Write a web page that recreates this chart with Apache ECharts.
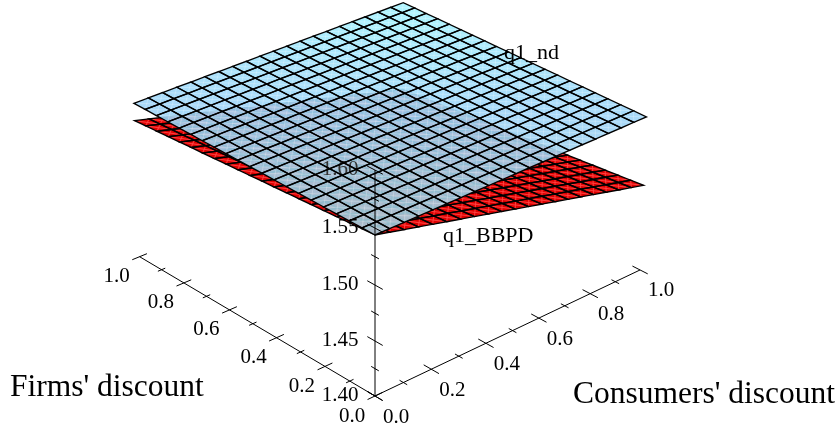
<!DOCTYPE html>
<html><head><meta charset="utf-8">
<style>html,body{margin:0;padding:0;background:#fff}#c{width:839px;height:430px}</style>
<script src="https://cdn.jsdelivr.net/npm/echarts@6/dist/echarts.min.js"></script>
</head><body><div id="c"></div>
<script>
const firmsTicks=[0,0.1,0.2,0.3,0.4,0.5,0.6,0.7,0.8,0.9,1];
const consumersTicks=[0,0.1,0.2,0.3,0.4,0.5,0.6,0.7,0.8,0.9,1];
const qTicks=[1.4,1.425,1.45,1.475,1.5,1.525,1.55,1.575,1.6];
const gridSteps=[0,0.05,0.1,0.15,0.2,0.25,0.3,0.35,0.4,0.45,0.5,0.55,0.6,0.65,0.7,0.75,0.8,0.85,0.9,0.95,1];
const q1_nd=[
[1.5440,1.5441,1.5441,1.5442,1.5442,1.5443,1.5443,1.5444,1.5444,1.5445,1.5445,1.5446,1.5446,1.5447,1.5447,1.5448,1.5448,1.5449,1.5449,1.5450,1.5450],
[1.5441,1.5441,1.5442,1.5442,1.5443,1.5443,1.5444,1.5444,1.5445,1.5445,1.5446,1.5446,1.5447,1.5447,1.5448,1.5448,1.5449,1.5449,1.5450,1.5450,1.5451],
[1.5441,1.5442,1.5442,1.5443,1.5443,1.5444,1.5444,1.5445,1.5445,1.5446,1.5446,1.5447,1.5447,1.5448,1.5448,1.5449,1.5449,1.5450,1.5450,1.5451,1.5451],
[1.5442,1.5442,1.5443,1.5443,1.5444,1.5444,1.5445,1.5445,1.5446,1.5446,1.5447,1.5447,1.5448,1.5448,1.5449,1.5449,1.5450,1.5450,1.5451,1.5451,1.5452],
[1.5442,1.5443,1.5443,1.5444,1.5444,1.5445,1.5445,1.5446,1.5446,1.5447,1.5447,1.5448,1.5448,1.5449,1.5449,1.5450,1.5450,1.5451,1.5451,1.5452,1.5452],
[1.5443,1.5443,1.5444,1.5444,1.5445,1.5445,1.5446,1.5446,1.5447,1.5447,1.5448,1.5448,1.5449,1.5449,1.5450,1.5450,1.5451,1.5451,1.5452,1.5452,1.5453],
[1.5443,1.5444,1.5444,1.5445,1.5445,1.5446,1.5446,1.5447,1.5447,1.5448,1.5448,1.5449,1.5449,1.5450,1.5450,1.5451,1.5451,1.5452,1.5452,1.5453,1.5453],
[1.5444,1.5444,1.5445,1.5445,1.5446,1.5446,1.5447,1.5447,1.5448,1.5448,1.5449,1.5449,1.5450,1.5450,1.5451,1.5451,1.5452,1.5452,1.5453,1.5453,1.5454],
[1.5444,1.5445,1.5445,1.5446,1.5446,1.5447,1.5447,1.5448,1.5448,1.5449,1.5449,1.5450,1.5450,1.5451,1.5451,1.5452,1.5452,1.5453,1.5453,1.5454,1.5454],
[1.5445,1.5445,1.5446,1.5446,1.5447,1.5447,1.5448,1.5448,1.5449,1.5449,1.5450,1.5450,1.5451,1.5451,1.5452,1.5452,1.5453,1.5453,1.5454,1.5454,1.5455],
[1.5445,1.5446,1.5446,1.5447,1.5447,1.5448,1.5448,1.5449,1.5449,1.5450,1.5450,1.5451,1.5451,1.5452,1.5452,1.5453,1.5453,1.5454,1.5454,1.5455,1.5455],
[1.5446,1.5446,1.5447,1.5447,1.5448,1.5448,1.5449,1.5449,1.5450,1.5450,1.5451,1.5451,1.5452,1.5452,1.5453,1.5453,1.5454,1.5454,1.5455,1.5455,1.5456],
[1.5446,1.5447,1.5447,1.5448,1.5448,1.5449,1.5449,1.5450,1.5450,1.5451,1.5451,1.5452,1.5452,1.5453,1.5453,1.5454,1.5454,1.5455,1.5455,1.5456,1.5456],
[1.5447,1.5447,1.5448,1.5448,1.5449,1.5449,1.5450,1.5450,1.5451,1.5451,1.5452,1.5452,1.5453,1.5453,1.5454,1.5454,1.5455,1.5455,1.5456,1.5456,1.5457],
[1.5447,1.5448,1.5448,1.5449,1.5449,1.5450,1.5450,1.5451,1.5451,1.5452,1.5452,1.5453,1.5453,1.5454,1.5454,1.5455,1.5455,1.5456,1.5456,1.5457,1.5457],
[1.5448,1.5448,1.5449,1.5449,1.5450,1.5450,1.5451,1.5451,1.5452,1.5452,1.5453,1.5453,1.5454,1.5454,1.5455,1.5455,1.5456,1.5456,1.5457,1.5457,1.5458],
[1.5448,1.5449,1.5449,1.5450,1.5450,1.5451,1.5451,1.5452,1.5452,1.5453,1.5453,1.5454,1.5454,1.5455,1.5455,1.5456,1.5456,1.5457,1.5457,1.5458,1.5458],
[1.5449,1.5449,1.5450,1.5450,1.5451,1.5451,1.5452,1.5452,1.5453,1.5453,1.5454,1.5454,1.5455,1.5455,1.5456,1.5456,1.5457,1.5457,1.5458,1.5458,1.5459],
[1.5449,1.5450,1.5450,1.5451,1.5451,1.5452,1.5452,1.5453,1.5453,1.5454,1.5454,1.5455,1.5455,1.5456,1.5456,1.5457,1.5457,1.5458,1.5458,1.5459,1.5459],
[1.5450,1.5450,1.5451,1.5451,1.5452,1.5452,1.5453,1.5453,1.5454,1.5454,1.5455,1.5455,1.5456,1.5456,1.5457,1.5457,1.5458,1.5458,1.5459,1.5459,1.5460],
[1.5450,1.5451,1.5451,1.5452,1.5452,1.5453,1.5453,1.5454,1.5454,1.5455,1.5455,1.5456,1.5456,1.5457,1.5457,1.5458,1.5458,1.5459,1.5459,1.5460,1.5460]
];
const q1_BBPD=[
[1.5440,1.5409,1.5377,1.5346,1.5314,1.5283,1.5251,1.5220,1.5188,1.5157,1.5125,1.5094,1.5062,1.5031,1.4999,1.4968,1.4936,1.4905,1.4873,1.4842,1.4810],
[1.5433,1.5401,1.5369,1.5338,1.5306,1.5274,1.5243,1.5211,1.5179,1.5148,1.5116,1.5084,1.5053,1.5021,1.4989,1.4958,1.4926,1.4895,1.4863,1.4831,1.4800],
[1.5425,1.5393,1.5361,1.5330,1.5298,1.5266,1.5234,1.5202,1.5171,1.5139,1.5107,1.5075,1.5043,1.5012,1.4980,1.4948,1.4916,1.4884,1.4853,1.4821,1.4789],
[1.5418,1.5386,1.5354,1.5322,1.5290,1.5258,1.5226,1.5194,1.5162,1.5130,1.5098,1.5066,1.5034,1.5002,1.4970,1.4938,1.4906,1.4874,1.4842,1.4810,1.4778],
[1.5410,1.5378,1.5346,1.5314,1.5282,1.5250,1.5217,1.5185,1.5153,1.5121,1.5089,1.5057,1.5025,1.4993,1.4961,1.4929,1.4896,1.4864,1.4832,1.4800,1.4768],
[1.5403,1.5370,1.5338,1.5306,1.5273,1.5241,1.5209,1.5177,1.5144,1.5112,1.5080,1.5048,1.5015,1.4983,1.4951,1.4919,1.4886,1.4854,1.4822,1.4790,1.4757],
[1.5395,1.5363,1.5330,1.5298,1.5265,1.5233,1.5201,1.5168,1.5136,1.5103,1.5071,1.5039,1.5006,1.4974,1.4941,1.4909,1.4877,1.4844,1.4812,1.4779,1.4747],
[1.5388,1.5355,1.5322,1.5290,1.5257,1.5225,1.5192,1.5160,1.5127,1.5095,1.5062,1.5029,1.4997,1.4964,1.4932,1.4899,1.4867,1.4834,1.4802,1.4769,1.4737],
[1.5380,1.5347,1.5315,1.5282,1.5249,1.5217,1.5184,1.5151,1.5118,1.5086,1.5053,1.5020,1.4988,1.4955,1.4922,1.4890,1.4857,1.4824,1.4791,1.4759,1.4726],
[1.5373,1.5340,1.5307,1.5274,1.5241,1.5208,1.5175,1.5143,1.5110,1.5077,1.5044,1.5011,1.4978,1.4945,1.4913,1.4880,1.4847,1.4814,1.4781,1.4748,1.4715],
[1.5365,1.5332,1.5299,1.5266,1.5233,1.5200,1.5167,1.5134,1.5101,1.5068,1.5035,1.5002,1.4969,1.4936,1.4903,1.4870,1.4837,1.4804,1.4771,1.4738,1.4705],
[1.5358,1.5324,1.5291,1.5258,1.5225,1.5192,1.5159,1.5125,1.5092,1.5059,1.5026,1.4993,1.4960,1.4927,1.4893,1.4860,1.4827,1.4794,1.4761,1.4728,1.4695],
[1.5350,1.5317,1.5283,1.5250,1.5217,1.5184,1.5150,1.5117,1.5084,1.5050,1.5017,1.4984,1.4950,1.4917,1.4884,1.4851,1.4817,1.4784,1.4751,1.4717,1.4684],
[1.5343,1.5309,1.5276,1.5242,1.5209,1.5175,1.5142,1.5108,1.5075,1.5041,1.5008,1.4974,1.4941,1.4908,1.4874,1.4841,1.4807,1.4774,1.4740,1.4707,1.4673],
[1.5335,1.5301,1.5268,1.5234,1.5201,1.5167,1.5133,1.5100,1.5066,1.5033,1.4999,1.4965,1.4932,1.4898,1.4865,1.4831,1.4797,1.4764,1.4730,1.4697,1.4663],
[1.5328,1.5294,1.5260,1.5226,1.5193,1.5159,1.5125,1.5091,1.5058,1.5024,1.4990,1.4956,1.4923,1.4889,1.4855,1.4821,1.4788,1.4754,1.4720,1.4686,1.4653],
[1.5320,1.5286,1.5252,1.5218,1.5184,1.5151,1.5117,1.5083,1.5049,1.5015,1.4981,1.4947,1.4913,1.4879,1.4845,1.4812,1.4778,1.4744,1.4710,1.4676,1.4642],
[1.5313,1.5278,1.5244,1.5210,1.5176,1.5142,1.5108,1.5074,1.5040,1.5006,1.4972,1.4938,1.4904,1.4870,1.4836,1.4802,1.4768,1.4734,1.4700,1.4666,1.4632],
[1.5305,1.5271,1.5237,1.5202,1.5168,1.5134,1.5100,1.5066,1.5031,1.4997,1.4963,1.4929,1.4895,1.4860,1.4826,1.4792,1.4758,1.4724,1.4689,1.4655,1.4621],
[1.5298,1.5263,1.5229,1.5194,1.5160,1.5126,1.5091,1.5057,1.5022,1.4988,1.4954,1.4919,1.4885,1.4850,1.4816,1.4782,1.4747,1.4713,1.4678,1.4644,1.4610],
[1.5290,1.5256,1.5221,1.5187,1.5152,1.5118,1.5083,1.5049,1.5014,1.4980,1.4945,1.4911,1.4876,1.4842,1.4807,1.4773,1.4738,1.4704,1.4669,1.4635,1.4600]
];

// perspective view of (firms discount, consumers' discount, q) onto the page
function project(f,c,q){
  const w=(q-1.4)/0.2, d=1+0.079*f+0.079*c-0.035*w;
  return [375+(-254*f+286*c)/d, 396+(-150.3*f-136*c-218*w)/d];
}
const mix=(a,b,t)=>a.map((v,i)=>Math.round(v+(b[i]-v)*t));
function blueFor(t){
  const front=[163,205,220],mid=[160,213,248],back=[165,245,255];
  const m=t<0.5?mix(front,mid,t*2):mix(mid,back,t*2-1);
  return 'rgba('+m.join(',')+',0.9)';
}
const cells=[];
for(let i=0;i<gridSteps.length-1;i++)for(let j=0;j<gridSteps.length-1;j++)cells.push([i,j]);

function cellPts(api,Z,i,j){
  const F=gridSteps,C=gridSteps;
  const q=(a,b)=>api.coord(project(F[a],C[b],Z[a][b]));
  return [q(i,j),q(i+1,j),q(i+1,j+1),q(i,j+1)];
}
const seg=(a,b,style)=>({type:'line',shape:{x1:a[0],y1:a[1],x2:b[0],y2:b[1]},style});
function fillSeries(Z,colorOf,seam,seamW,z){
  return {type:'custom',coordinateSystem:'cartesian2d',z,silent:true,data:cells,clip:false,
    renderItem(p,api){
      const i=api.value(0),j=api.value(1),pts=cellPts(api,Z,i,j);
      const t=(gridSteps[i]+gridSteps[j]+0.05)/2;
      return {type:'group',children:[
        {type:'polygon',shape:{points:pts},style:{fill:colorOf(t)}},
        seg(pts[0],pts[2],{stroke:seam,lineWidth:seamW}),
        seg(pts[1],pts[3],{stroke:seam,lineWidth:seamW})
      ]};
    }};
}
function meshSeries(Z,z,opacity){
  return {type:'custom',coordinateSystem:'cartesian2d',z,silent:true,data:cells,clip:false,
    renderItem(p,api){
      const pts=cellPts(api,Z,api.value(0),api.value(1));
      return {type:'polygon',shape:{points:pts},style:{fill:'none',stroke:'#000',lineWidth:1.35,opacity}};
    }};
}
const lineStyle={stroke:'#000',lineWidth:1};
const txt=(x,y,text,size,align,fill)=>({type:'text',x,y,style:{text,x:0,y:0,fill:fill||'#000',font:size+'px "Liberation Serif"',align:align||'center',verticalAlign:'middle'}});
const isMajor=v=>Math.abs(v*5-Math.round(v*5))<1e-6;
const axesSeries={type:'custom',coordinateSystem:'cartesian2d',z:4,silent:true,data:[[0]],clip:false,
  renderItem(p,api){
    const P=(f,c,q)=>api.coord(project(f,c,q)), kids=[];
    kids.push(seg(P(0,0,1.4),P(1,0,1.4),lineStyle),seg(P(0,0,1.4),P(0,1,1.4),lineStyle),seg(P(0,0,1.4),P(0,0,1.6),lineStyle));
    firmsTicks.forEach(v=>{
      const m=isMajor(v),h=m?0.026:0.013;
      kids.push(seg(P(v,-h,1.4),P(v,h,1.4),lineStyle));
      if(m){const a=P(v,0,1.4);kids.push(txt(a[0]-23,a[1]+20,v.toFixed(1),21));}
    });
    consumersTicks.forEach(v=>{
      const m=isMajor(v),h=m?0.03:0.015;
      kids.push(seg(P(-h,v,1.4),P(h,v,1.4),lineStyle));
      if(m){const a=P(0,v,1.4);kids.push(txt(a[0]+21,a[1]+21,v.toFixed(1),21));}
    });
    qTicks.forEach((v,k)=>{
      const m=k%2===0,h=m?0.03:0.015;
      kids.push(seg(P(-h,0,v),P(h,0,v),lineStyle));
      if(m){const a=P(0,0,v);kids.push(txt(a[0]-35,a[1]-1,v.toFixed(2),21,'center',v>1.57?'#333':'#000'));}
    });
    return {type:'group',children:kids};
  }};
const titlesSeries={type:'custom',coordinateSystem:'cartesian2d',z:4,silent:true,data:[[0]],clip:false,
  renderItem(p,api){
    const at=(x,y,t,s,a)=>{const q=api.coord([x,y]);return txt(q[0],q[1],t,s,a);};
    return {type:'group',children:[
      at(10,388,"Firms' discount",31.5,'left'),
      at(573,395,"Consumers' discount",31.5,'left'),
      at(443,236,'q1_BBPD',22,'left'),
      at(504,53,'q1_nd',22,'left')
    ]};
  }};
echarts.init(document.getElementById('c'),null,{renderer:'canvas'}).setOption({
  animation:false,backgroundColor:'#fff',
  grid:{left:0,right:0,top:0,bottom:0},
  xAxis:{type:'value',min:0,max:839,show:false},
  yAxis:{type:'value',min:430,max:0,inverse:false,show:false},
  series:[
    axesSeries,titlesSeries,
    fillSeries(q1_BBPD,()=>'#de0000','rgba(255,70,70,0.85)',1.1,1),
    meshSeries(q1_BBPD,2,1),
    fillSeries(q1_nd,blueFor,'rgba(255,255,255,0.25)',1,3),
    meshSeries(q1_nd,5,1)
  ]
});
</script></body></html>
